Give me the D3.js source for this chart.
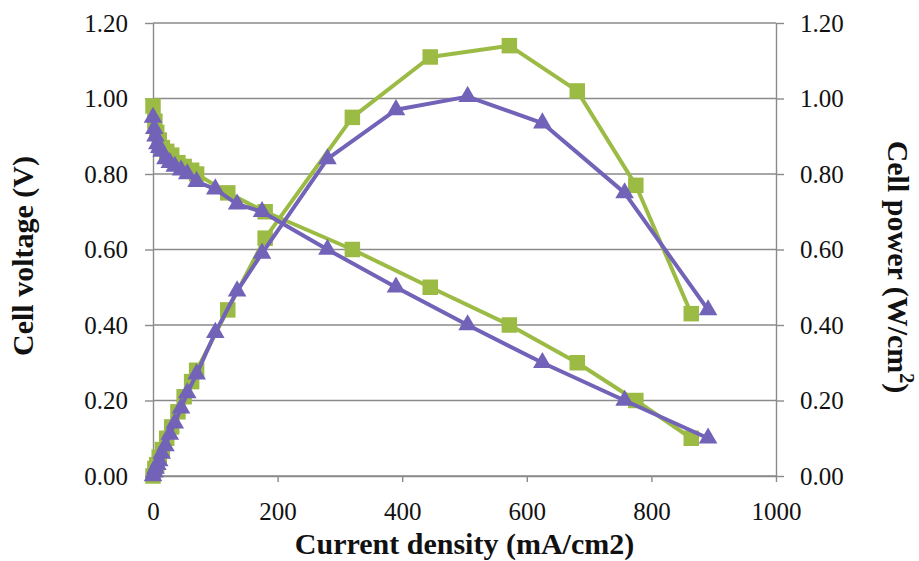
<!DOCTYPE html>
<html lang="en">
<head>
    <meta charset="UTF-8">
    <title>Cell voltage and power vs current density</title>
    <style>
        body {
            margin: 0;
            background-color: #fff;
        }
        .tick text {
            font-family: "Liberation Serif", "DejaVu Serif", serif;
            font-size: 25px;
            fill: #111;
        }
        .tick line, .domain {
            stroke: #8a8a8a;
            stroke-width: 1.4;
        }
        .grid {
            stroke: #8a8a8a;
            stroke-width: 1.4;
        }
        .title {
            font-family: "Liberation Serif", "DejaVu Serif", serif;
            font-weight: bold;
            font-size: 30px;
            fill: #111;
        }
    </style>
</head>
<body>
    <svg width="919" height="561"></svg>
    <script src="https://cdn.jsdelivr.net/npm/d3@7"></script>
    <script>
        // green series (squares)
        const greenCurrent = [0, 3, 6, 10, 15, 22, 30, 40, 50, 62, 70, 120, 180, 320, 445, 572, 681, 775, 864];
        const greenVoltage = [0.98, 0.94, 0.91, 0.89, 0.87, 0.86, 0.85, 0.83, 0.82, 0.81, 0.80, 0.75, 0.70, 0.60, 0.50, 0.40, 0.30, 0.20, 0.10];
        const greenPower = [0.00, 0.02, 0.03, 0.05, 0.07, 0.10, 0.13, 0.17, 0.21, 0.25, 0.28, 0.44, 0.63, 0.95, 1.11, 1.14, 1.02, 0.77, 0.43];

        // purple series (triangles)
        const purpleCurrent = [0, 2, 4, 7, 10, 14, 20, 27, 35, 45, 55, 70, 100, 135, 175, 280, 390, 505, 625, 757, 891];
        const purpleVoltage = [0.95, 0.92, 0.90, 0.88, 0.87, 0.86, 0.84, 0.83, 0.82, 0.81, 0.80, 0.78, 0.76, 0.72, 0.70, 0.60, 0.50, 0.40, 0.30, 0.20, 0.10];
        const purplePower = [0.00, 0.01, 0.02, 0.03, 0.04, 0.06, 0.08, 0.11, 0.14, 0.18, 0.22, 0.27, 0.38, 0.49, 0.59, 0.84, 0.97, 1.005, 0.935, 0.75, 0.44];

        const xTicks = [0, 200, 400, 600, 800, 1000];
        const yTicks = [0, 0.2, 0.4, 0.6, 0.8, 1.0, 1.2];

        const green = "#9bbb45";
        const purple = "#7262b8";

        const svg = d3.select("svg");
        const plotLeft = 153, plotRight = 776, plotTop = 23, plotBottom = 476;

        const x = d3.scaleLinear().domain([0, 1000]).range([plotLeft, plotRight]);
        const y = d3.scaleLinear().domain([0, 1.2]).range([plotBottom, plotTop]);
        const y2 = d3.scaleLinear().domain([0, 1.2]).range([plotBottom, plotTop]);

        // horizontal gridlines
        svg.append("g")
            .selectAll("line")
            .data(yTicks)
            .enter()
            .append("line")
            .attr("class", "grid")
            .attr("x1", plotLeft)
            .attr("x2", plotRight)
            .attr("y1", d => y(d))
            .attr("y2", d => y(d));

        svg.append("g")
            .attr("transform", `translate(${plotLeft},0)`)
            .call(d3.axisLeft(y).tickValues(yTicks).tickSize(8).tickSizeOuter(0).tickPadding(17).tickFormat(d3.format(".2f")));

        svg.append("g")
            .attr("transform", `translate(${plotRight},0)`)
            .call(d3.axisRight(y2).tickValues(yTicks).tickSize(8).tickSizeOuter(0).tickPadding(16).tickFormat(d3.format(".2f")));

        svg.append("g")
            .attr("transform", `translate(0,${plotBottom})`)
            .call(d3.axisBottom(x).tickValues(xTicks).tickSize(6).tickSizeOuter(0).tickPadding(20).tickFormat(d3.format("d")));

        const series = [
            { xs: greenCurrent, ys: greenVoltage, color: green, shape: d3.symbolSquare, size: 240, scale: y },
            { xs: greenCurrent, ys: greenPower, color: green, shape: d3.symbolSquare, size: 240, scale: y2 },
            { xs: purpleCurrent, ys: purpleVoltage, color: purple, shape: d3.symbolTriangle, size: 150, scale: y },
            { xs: purpleCurrent, ys: purplePower, color: purple, shape: d3.symbolTriangle, size: 150, scale: y2 }
        ];

        series.forEach(s => {
            const pts = s.xs.map((v, i) => [v, s.ys[i]]);
            const line = d3.line()
                .x(d => x(d[0]))
                .y(d => s.scale(d[1]));

            svg.append("path")
                .datum(pts)
                .attr("fill", "none")
                .attr("stroke", s.color)
                .attr("stroke-width", 4)
                .attr("stroke-linejoin", "round")
                .attr("d", line);

            svg.append("g")
                .selectAll("path")
                .data(pts)
                .enter()
                .append("path")
                .attr("fill", s.color)
                .attr("transform", d => `translate(${x(d[0])},${s.scale(d[1])})`)
                .attr("d", d3.symbol().type(s.shape).size(s.size));
        });

        // axis titles
        svg.append("text")
            .attr("class", "title")
            .attr("x", (plotLeft + plotRight) / 2)
            .attr("y", 554)
            .attr("text-anchor", "middle")
            .text("Current density (mA/cm2)");

        svg.append("text")
            .attr("class", "title")
            .attr("transform", "translate(33,256) rotate(-90)")
            .attr("text-anchor", "middle")
            .text("Cell voltage (V)");

        const powerTitle = svg.append("text")
            .attr("class", "title")
            .attr("transform", "translate(888,267) rotate(90)")
            .attr("text-anchor", "middle");
        powerTitle.append("tspan").text("Cell power (W/cm");
        powerTitle.append("tspan").attr("dy", -12).attr("font-size", 20).text("2");
        powerTitle.append("tspan").attr("dy", 12).text(")");
    </script>
</body>
</html>
